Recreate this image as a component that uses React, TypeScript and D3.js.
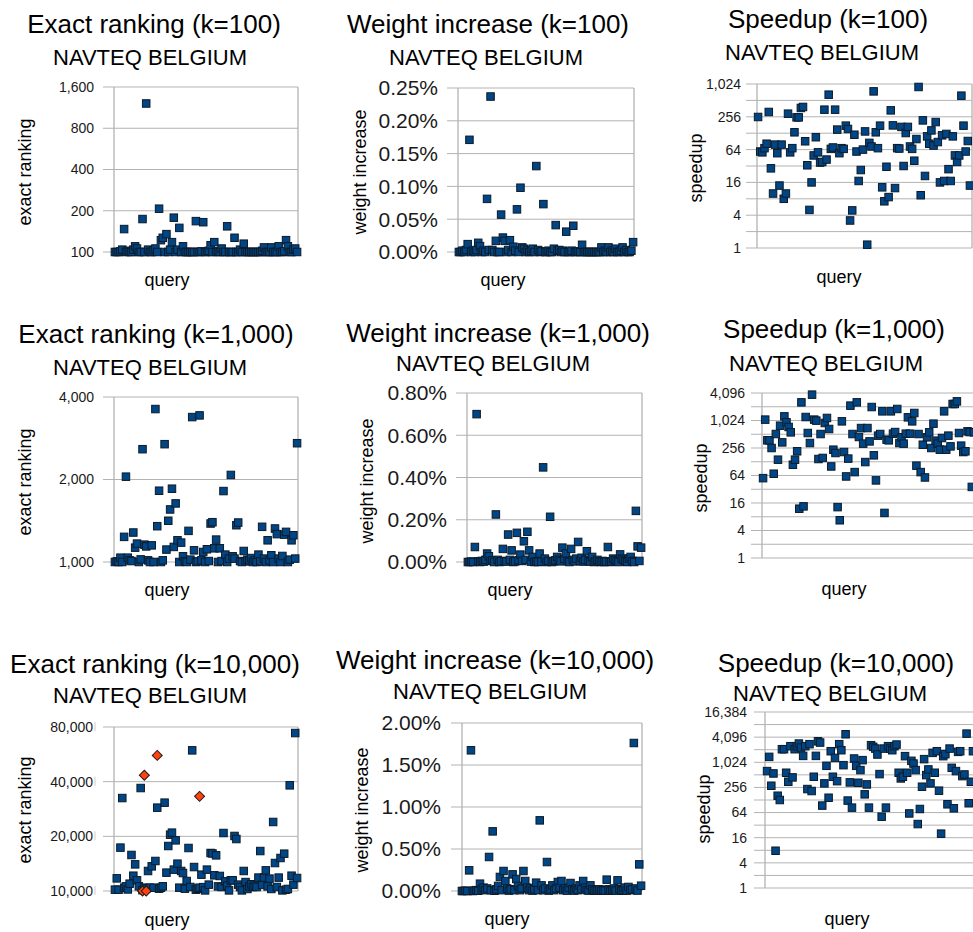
import React from 'react';
import * as d3 from 'd3';

// query-by-query values (index = query number)
const exactRankK100 = [
    100, 100, 100, 101, 104, 147, 100, 102, 100, 100, 104, 110, 106, 100, 100, 174, 100, 1213, 104, 100,
    100, 103, 106, 100, 207, 122, 127, 100, 135, 100, 104, 118, 178, 100, 104, 150, 100, 110, 100, 100,
    100, 100, 100, 100, 168, 100, 100, 101, 165, 100, 100, 102, 112, 100, 118, 100, 101, 100, 106, 100,
    100, 154, 100, 100, 100, 127, 100, 100, 104, 100, 115, 100, 100, 100, 100, 100, 100, 100, 100, 100,
    102, 108, 100, 100, 100, 108, 100, 100, 100, 110, 100, 100, 101, 122, 110, 100, 100, 104, 106, 100
];
const weightIncK100 = [
    0, 0, 0.002, 0, 0.003, 0.012, 0.171, 0, 0.002, 0, 0.003, 0.014, 0.009, 0, 0.002, 0, 0.081, 0.003, 0.237, 0.003,
    0, 0.017, 0, 0, 0.057, 0.022, 0.017, 0, 0.003, 0.018, 0, 0.008, 0.002, 0.065, 0, 0.098, 0.007, 0.005, 0, 0.003,
    0, 0.002, 0.005, 0, 0.131, 0.003, 0, 0.001, 0.073, 0, 0, 0.002, 0, 0, 0.005, 0.041, 0.002, 0.003, 0, 0.002,
    0, 0.031, 0, 0, 0.002, 0.04, 0, 0, 0.001, 0, 0.011, 0, 0, 0, 0, 0, 0, 0, 0, 0,
    0, 0.007, 0, 0.002, 0, 0.007, 0, 0.002, 0, 0.005, 0, 0, 0.002, 0.007, 0, 0.003, 0, 0, 0.002, 0.015
];
const speedupK100 = [
    254, 59, 57, 68, 82, 314, 29, 10, 79, 55, 14, 79, 8, 10, 292, 57, 68, 133, 250, 250,
    372, 388, 91, 33, 5, 16, 50, 108, 57, 37, 38, 346, 42, 652, 66, 70, 346, 149, 55, 68,
    66, 176, 153, 3.2, 4.9, 120, 59, 17, 27, 64, 138, 1.15, 85, 73, 750, 133, 68, 176, 13, 7.2,
    31, 8.6, 336, 178, 12.6, 68, 67, 167, 32, 129, 167, 73, 66, 40, 100, 903, 9.3, 220, 21, 112,
    82, 144, 76, 205, 88, 16, 117, 17, 124, 28, 17, 112, 50, 38, 50, 625, 176, 59, 92, 14
];

const exactRankK1000 = [
    1000, 1005, 1000, 1037, 1000, 1235, 2048, 1037, 1014, 1008, 1281, 1128, 1167, 1000, 1022, 2580, 1157, 1140, 1014, 1000,
    1150, 1000, 3615, 1351, 1820, 1000, 1014, 2691, 1110, 1414, 1555, 1851, 1135, 1636, 1200, 1000, 1177, 1049, 1008, 1000,
    1299, 1020, 3379, 1103, 1000, 1005, 3427, 1014, 1088, 1000, 1113, 1008, 1382, 1397, 1122, 1207, 1000, 1122, 1008, 1815,
    1064, 1000, 1029, 2078, 1049, 1029, 1362, 1393, 1008, 1000, 1097, 1005, 1020, 1014, 1034, 1000, 1014, 1000, 1064, 1005,
    1344, 1029, 1000, 1200, 1014, 1058, 1000, 1325, 1264, 1029, 1000, 1052, 1259, 1288, 1000, 1020, 1200, 1252, 1029, 2713
];
const weightIncK1000 = [
    0, 0, 0.002, 0, 0.071, 0.7, 0.003, 0, 0.005, 0.002, 0.01, 0.04, 0.027, 0.005, 0.008, 0, 0.225, 0.01, 0, 0.003,
    0.062, 0.005, 0.002, 0.13, 0.01, 0.055, 0, 0.003, 0.138, 0.008, 0.035, 0.005, 0.098, 0.01, 0.143, 0.055, 0.002, 0.024, 0, 0.003,
    0, 0.04, 0.002, 0.448, 0.016, 0, 0.005, 0.214, 0, 0.003, 0.008, 0.024, 0.01, 0.003, 0.068, 0.015, 0.04, 0.005, 0, 0.062,
    0.01, 0.003, 0.016, 0.095, 0.005, 0.02, 0.002, 0.01, 0.051, 0.005, 0.002, 0.024, 0, 0.003, 0.01, 0.002, 0, 0.005, 0, 0.002,
    0.071, 0, 0.003, 0.016, 0.01, 0.005, 0, 0.036, 0.016, 0.01, 0.003, 0, 0.016, 0.024, 0.005, 0, 0.242, 0.074, 0.005, 0.068
];
const speedupK1000 = [
    56, 1070, 377, 377, 256, 70, 518, 142, 788, 340, 1261, 935, 739, 564, 110, 142, 217, 12, 2556, 13.5,
    1220, 545, 329, 3770, 1070, 1017, 147, 518, 155, 903, 1163, 667, 101, 235, 199, 13, 6.7, 982, 209, 61,
    150, 2165, 518, 76, 2556, 446, 700, 319, 126, 700, 357, 2020, 177, 50, 477, 518, 1626, 9.7, 390, 377,
    1626, 527, 572, 1830, 329, 439, 319, 527, 1202, 527, 982, 1495, 105, 518, 76, 302, 58, 439, 564, 256,
    873, 370, 319, 235, 424, 1626, 235, 477, 278, 2353, 2353, 2688, 545, 288, 209, 217, 593, 572, 36, 564
];

const exactRankK10000 = [
    10170, 11740, 10170, 17330, 32500, 10430, 10610, 10200, 10970, 15790, 12140, 14020, 11450, 10610, 36900, 10100, 10430, 10300, 12890, 10430,
    13670, 10430, 14630, 28770, 10300, 10430, 10610, 30650, 12620, 17690, 20420, 20950, 13110, 19010, 14140, 10430, 12890, 12560, 10300, 11350,
    17250, 10520, 59500, 13550, 10170, 10300, 10430, 12300, 10500, 10080, 13110, 10840, 16190, 16100, 12200, 15720, 10600, 12100, 10520, 20860,
    11300, 10700, 10080, 11450, 11450, 20090, 19330, 10840, 10500, 10080, 12890, 11200, 10260, 10600, 10890, 10520, 10700, 10520, 11850, 16600,
    10800, 11850, 12990, 10600, 11700, 10260, 23990, 14260, 10520, 11850, 15200, 10080, 16050, 10170, 10260, 38190, 12140, 10840, 74100, 11790
];
// second series (red diamonds) in the k=10,000 ranking chart
const exactRankK10000AltQueries = [15, 16, 17, 23, 46];
const exactRankK10000AltValues = [10000, 43350, 10000, 55800, 33200];
const weightIncK10000 = [
    0, 0, 0.003, 0, 0.246, 1.675, 0, 0.005, 0.01, 0.003, 0.087, 0.02, 0.04, 0.01, 0.03, 0.405, 0.01, 0.71, 0.003, 0.02,
    0.06, 0.167, 0.01, 0.238, 0.119, 0.03, 0.005, 0.02, 0.198, 0.01, 0.143, 0.06, 0.01, 0.03, 0.238, 0.119, 0.04, 0.01, 0.03, 0.005,
    0.02, 0.099, 0.01, 0.841, 0.067, 0.01, 0.03, 0.345, 0.005, 0.02, 0.067, 0.01, 0.03, 0.107, 0.04, 0.119, 0.01, 0.03, 0.005, 0.04,
    0.095, 0.02, 0.005, 0.03, 0.01, 0.067, 0.02, 0.119, 0.04, 0.01, 0.005, 0.067, 0.02, 0.003, 0.01, 0.005, 0.02, 0.003, 0.01, 0.005,
    0.135, 0.02, 0.003, 0.01, 0.03, 0.005, 0.127, 0.02, 0.003, 0.01, 0.04, 0.005, 0.048, 0.01, 0.02, 1.762, 0.03, 0.005, 0.317, 0.063
];
const speedupK10000 = [
    630, 1380, 281, 553, 7.8, 162, 128, 2105, 2105, 575, 350, 2486, 445, 2105, 2486, 2876, 2304, 1458, 2486, 234,
    2778, 210, 461, 1458, 3258, 3040, 94, 320, 843, 145, 1885, 461, 1305, 362, 2778, 1992, 873, 4800, 124, 338,
    84, 1260, 843, 331, 666, 1152, 175, 302, 84, 2628, 2400, 2180, 1573, 534, 51, 2180, 84, 2486, 2180, 1992,
    2486, 2720, 575, 421, 461, 1436, 575, 61, 1110, 955, 666, 34, 78, 266, 1218, 505, 690, 320, 1722, 575,
    1885, 214, 20, 1436, 1600, 101, 2180, 755, 81, 630, 1820, 1885, 478, 523, 4970, 107, 350, 1885
];

const rankTicksK100 = [100, 200, 400, 800, 1600];
const rankTicksK1000 = [1000, 2000, 4000];
const rankTicksK10000 = [10000, 20000, 40000, 80000];
const weightTicksK100 = [0, 0.05, 0.1, 0.15, 0.2, 0.25];
const weightTicksK1000 = [0, 0.2, 0.4, 0.6, 0.8];
const weightTicksK10000 = [0, 0.5, 1, 1.5, 2];
const speedTicksK100 = [1, 4, 16, 64, 256, 1024];
const speedTicksK1000 = [1, 4, 16, 64, 256, 1024, 4096];
const speedTicksK10000 = [1, 4, 16, 64, 256, 1024, 4096, 16384];

const FONT = '"Liberation Sans", Arial, sans-serif';
const GRID = '#b3b3b3';
const BLUE = '#004586';
const ORANGE = '#ff420e';
const SUBTITLE = 'NAVTEQ BELGIUM';

const fmtInt = d3.format(',');
const fmtPct = (v) => v.toFixed(2) + '%';

type Spec = {
    title: string;
    yLabel: string;
    values: number[];
    log: boolean;
    ticks: number[];
    minor?: boolean;
    fmt: (v: number) => string;
    tickSize: number;
    box: { l: number; r: number; t: number; b: number };
    pts: [number, number];
    labelGap: number;
    titlePos: [number, number];
    subPos: [number, number];
    yLabelPos: [number, number];
    queryPos: [number, number];
    tickBar?: boolean;
    alt?: { queries: number[]; values: number[] };
};

const Panel = ({ s }: { s: Spec }) => {
    const { box } = s;
    const domain = [s.ticks[0], s.ticks[s.ticks.length - 1]];
    const y = s.log
        ? d3.scaleLog().base(2).domain(domain).range([box.b, box.t])
        : d3.scaleLinear().domain(domain).range([box.b, box.t]);
    const x = d3.scaleLinear().domain([-0.5, s.values.length - 0.5]).range(s.pts);

    // minor lines halfway (in log2) between the labelled speedup ticks
    const minorTicks = s.minor ? s.ticks.slice(0, -1).map((t) => t * 2) : [];
    const diamond = d3.symbol().type(d3.symbolSquare).size(50)();

    return (
        <g>
            <text x={s.titlePos[0]} y={s.titlePos[1]} fontSize={26} textAnchor="middle" fill="#000">
                {s.title}
            </text>
            <text x={s.subPos[0]} y={s.subPos[1]} fontSize={22} textAnchor="middle" fill="#000">
                {SUBTITLE}
            </text>
            {minorTicks.map((t) => (
                <line key={'m' + t} x1={box.l - 11} x2={box.r} y1={y(t)} y2={y(t)} stroke={GRID} strokeWidth={1} />
            ))}
            {s.ticks.map((t) => (
                <g key={t}>
                    <line x1={box.l - 11} x2={box.r} y1={y(t)} y2={y(t)} stroke={GRID} strokeWidth={1} />
                    <text
                        x={box.l - s.labelGap}
                        y={y(t)}
                        dy="0.35em"
                        fontSize={s.tickSize}
                        textAnchor="end"
                        fill="#1a1a1a"
                    >
                        {s.fmt(t)}
                    </text>
                    {s.tickBar && (
                        <line x1={box.l - 19} x2={box.l - 19} y1={y(t) - 5} y2={y(t) + 4} stroke="#ccc" />
                    )}
                </g>
            ))}
            <line x1={box.l} x2={box.l} y1={box.t} y2={box.b} stroke={GRID} strokeWidth={1.3} />
            <line x1={box.r} x2={box.r} y1={box.t} y2={box.b} stroke={GRID} strokeWidth={1.3} />
            {s.values.map((v, i) => (
                <rect
                    key={i}
                    x={x(i) - 3.75}
                    y={y(v) - 3.75}
                    width={7.5}
                    height={7.5}
                    fill={BLUE}
                    stroke="#0d1a26"
                    strokeWidth={1}
                />
            ))}
            {s.alt && s.alt.values.map((v, i) => (
                <path
                    key={'a' + i}
                    d={diamond}
                    transform={`translate(${x(s.alt.queries[i])},${y(v)}) rotate(45)`}
                    fill={ORANGE}
                    stroke="#1a1a1a"
                    strokeWidth={1}
                />
            ))}
            <text
                transform={`translate(${s.yLabelPos[0]},${s.yLabelPos[1]}) rotate(-90)`}
                dy="0.35em"
                fontSize={18}
                textAnchor="middle"
                fill="#000"
            >
                {s.yLabel}
            </text>
            <text x={s.queryPos[0]} y={s.queryPos[1]} fontSize={18} textAnchor="middle" fill="#000">
                query
            </text>
        </g>
    );
};

const specs: Spec[] = [
    {
        title: 'Exact ranking (k=100)', yLabel: 'exact ranking', values: exactRankK100, log: true,
        ticks: rankTicksK100, fmt: fmtInt, tickSize: 14, box: { l: 114, r: 298, t: 87, b: 252 }, pts: [114, 298],
        labelGap: 20, titlePos: [154, 33], subPos: [150, 65], yLabelPos: [25, 172], queryPos: [167, 286]
    },
    {
        title: 'Weight increase (k=100)', yLabel: 'weight increase', values: weightIncK100, log: false,
        ticks: weightTicksK100, fmt: fmtPct, tickSize: 21, box: { l: 458, r: 634, t: 88, b: 252 }, pts: [458, 634],
        labelGap: 20, titlePos: [488, 33], subPos: [486, 65], yLabelPos: [360, 172], queryPos: [503, 286]
    },
    {
        title: 'Speedup (k=100)', yLabel: 'speedup', values: speedupK100, log: true, minor: true,
        ticks: speedTicksK100, fmt: fmtInt, tickSize: 14, box: { l: 757, r: 972, t: 84, b: 248 }, pts: [757, 971],
        labelGap: 16, titlePos: [828, 28], subPos: [822, 60], yLabelPos: [696, 168], queryPos: [839, 283]
    },
    {
        title: 'Exact ranking (k=1,000)', yLabel: 'exact ranking', values: exactRankK1000, log: true,
        ticks: rankTicksK1000, fmt: fmtInt, tickSize: 14, box: { l: 114, r: 298, t: 397, b: 562 }, pts: [114, 298],
        labelGap: 20, titlePos: [156, 343], subPos: [150, 375], yLabelPos: [25, 482], queryPos: [167, 596]
    },
    {
        title: 'Weight increase (k=1,000)', yLabel: 'weight increase', values: weightIncK1000, log: false,
        ticks: weightTicksK1000, fmt: fmtPct, tickSize: 21, box: { l: 467, r: 642, t: 393, b: 562 }, pts: [467, 642],
        labelGap: 20, titlePos: [498, 342], subPos: [493, 371], yLabelPos: [367, 481], queryPos: [510, 596]
    },
    {
        title: 'Speedup (k=1,000)', yLabel: 'speedup', values: speedupK1000, log: true, minor: true,
        ticks: speedTicksK1000, fmt: fmtInt, tickSize: 14, box: { l: 762, r: 976, t: 393, b: 558 }, pts: [762, 975],
        labelGap: 17, titlePos: [834, 338], subPos: [826, 371], yLabelPos: [701, 478], queryPos: [844, 595]
    },
    {
        title: 'Exact ranking (k=10,000)', yLabel: 'exact ranking', values: exactRankK10000, log: true,
        ticks: rankTicksK10000, fmt: fmtInt, tickSize: 14, box: { l: 114, r: 298, t: 727, b: 891 }, pts: [114, 298],
        labelGap: 21, titlePos: [155, 673], subPos: [150, 703], yLabelPos: [25, 810], queryPos: [167, 926],
        tickBar: true, alt: { queries: exactRankK10000AltQueries, values: exactRankK10000AltValues }
    },
    {
        title: 'Weight increase (k=10,000)', yLabel: 'weight increase', values: weightIncK10000, log: false,
        ticks: weightTicksK10000, fmt: fmtPct, tickSize: 21, box: { l: 462, r: 642, t: 723, b: 891 }, pts: [461, 642],
        labelGap: 21, titlePos: [495, 669], subPos: [490, 699], yLabelPos: [362, 810], queryPos: [507, 925]
    },
    {
        title: 'Speedup (k=10,000)', yLabel: 'speedup', values: speedupK10000, log: true, minor: true,
        ticks: speedTicksK10000, fmt: fmtInt, tickSize: 14, box: { l: 765, r: 976, t: 712, b: 888 }, pts: [766, 974],
        labelGap: 18, titlePos: [836, 672], subPos: [830, 701], yLabelPos: [704, 809], queryPos: [847, 925]
    }
];

const App = () => (
    <svg
        width={973}
        height={932}
        style={{ position: 'absolute', left: 0, top: 0, background: '#fff', fontFamily: FONT }}
    >
        <rect width={973} height={932} fill="#fff" />
        {specs.map((s) => (
            <Panel key={s.title} s={s} />
        ))}
    </svg>
);

export default App;
